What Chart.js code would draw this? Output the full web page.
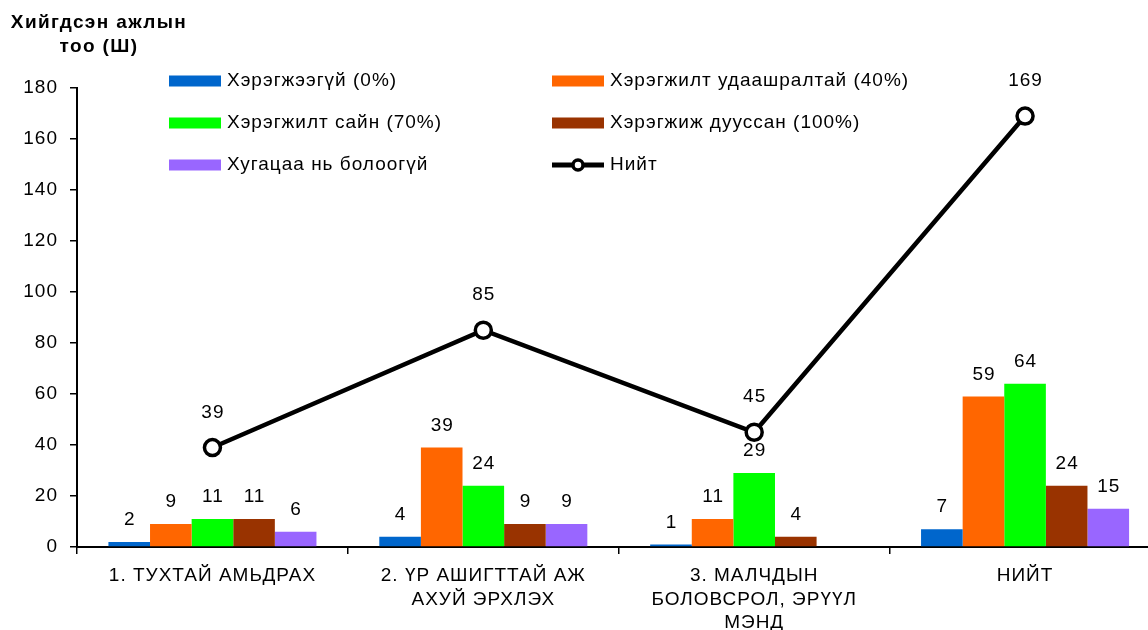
<!DOCTYPE html>
<html>
<head>
<meta charset="utf-8">
<script src="https://cdn.jsdelivr.net/npm/chart.js@4"></script>
<style>
html,body{margin:0;padding:0;background:#fff;overflow:hidden;}
#wrap{width:1172px;height:630px;position:relative;overflow:hidden;}
canvas{display:block;}
</style>
</head>
<body>
<div id="wrap"><canvas id="c" width="1172" height="630" style="width:1172px;height:630px;"></canvas></div>
<script>
const categories = [
  "1. ТУХТАЙ АМЬДРАХ",
  ["2. ҮР АШИГТТАЙ АЖ", "АХУЙ ЭРХЛЭХ"],
  ["3. МАЛЧДЫН", "БОЛОВСРОЛ, ЭРҮҮЛ", "МЭНД"],
  "НИЙТ"
];
const seriesNames = [
  "Хэрэгжээгүй (0%)",
  "Хэрэгжилт удаашралтай (40%)",
  "Хэрэгжилт сайн (70%)",
  "Хэрэгжиж дууссан (100%)",
  "Хугацаа нь болоогүй",
  "Нийт"
];
const notImplemented = [2, 4, 1, 7];
const slowProgress = [9, 39, 11, 59];
const goodProgress = [11, 24, 29, 64];
const completed = [11, 9, 4, 24];
const notDue = [6, 9, null, 15];
const totals = [39, 85, 45, 169];
const yTicks = [0, 20, 40, 60, 80, 100, 120, 140, 160, 180];
const axisTitle = ["Хийгдсэн ажлын", "тоо (Ш)"];

const colors = ["#0066CC", "#FF6600", "#00FF00", "#993300", "#9966FF", "#000000"];
const FONT = "'Liberation Sans', Arial, sans-serif";
const SPACING = '1px';
const FS = 19;

const barSeries = [notImplemented, slowProgress, goodProgress, completed, notDue];

const datasets = [{
  type: 'line',
  label: seriesNames[5],
  data: totals,
  borderColor: '#000',
  borderWidth: 4.5,
  pointRadius: 8,
  pointBorderWidth: 3.5,
  pointBackgroundColor: '#fff',
  pointBorderColor: '#000',
  tension: 0,
  order: -1
}];
barSeries.forEach((d, i) => {
  datasets.push({
    type: 'bar',
    label: seriesNames[i],
    data: d,
    backgroundColor: colors[i],
    borderWidth: 0,
    barPercentage: 1,
    categoryPercentage: 0.768,
    order: 1
  });
});

const spacingPlugin = {
  id: 'spacing',
  beforeInit(chart) { chart.ctx.letterSpacing = SPACING; },
  beforeUpdate(chart) { chart.ctx.letterSpacing = SPACING; },
  beforeDraw(chart) { chart.ctx.letterSpacing = SPACING; }
};

const labelPlugin = {
  id: 'valueLabels',
  afterDatasetsDraw(chart) {
    const ctx = chart.ctx;
    ctx.save();
    ctx.letterSpacing = SPACING;
    ctx.font = FS + "px " + FONT;
    ctx.fillStyle = '#000';
    ctx.textAlign = 'center';
    ctx.textBaseline = 'middle';
    chart.data.datasets.forEach((ds, di) => {
      const meta = chart.getDatasetMeta(di);
      meta.data.forEach((el, i) => {
        const v = ds.data[i];
        if (v === null || v === undefined) return;
        const off = ds.type === 'line' ? 35 : 22;
        ctx.fillText(String(v), el.x + 0.5, el.y - off);
      });
    });
    ctx.restore();
  },
  afterDraw(chart) {
    const ctx = chart.ctx;
    ctx.save();
    ctx.letterSpacing = '1.4px';
    ctx.font = "bold " + FS + "px " + FONT;
    ctx.fillStyle = '#000';
    ctx.textAlign = 'center';
    ctx.textBaseline = 'middle';
    ctx.fillText(axisTitle[0], 99, 23);
    ctx.fillText(axisTitle[1], 99, 47);
    // legend
    const cols = [169, 552];
    const rows = [81, 123, 165];
    ctx.letterSpacing = SPACING;
    ctx.font = FS + "px " + FONT;
    ctx.textAlign = 'left';
    seriesNames.forEach((name, k) => {
      const x = cols[k % 2];
      const y = rows[Math.floor(k / 2)];
      if (k < 5) {
        ctx.fillStyle = colors[k];
        ctx.fillRect(x, y - 5.5, 52, 11);
      } else {
        ctx.strokeStyle = '#000';
        ctx.lineWidth = 5;
        ctx.beginPath();
        ctx.moveTo(x, y);
        ctx.lineTo(x + 52, y);
        ctx.stroke();
        ctx.beginPath();
        ctx.arc(x + 26, y, 5, 0, Math.PI * 2);
        ctx.fillStyle = '#fff';
        ctx.fill();
        ctx.lineWidth = 3.5;
        ctx.stroke();
      }
      ctx.fillStyle = '#000';
      ctx.fillText(name, x + 58, y);
    });
    ctx.restore();
  }
};

new Chart(document.getElementById('c'), {
  data: { labels: categories, datasets },
  options: {
    responsive: false,
    maintainAspectRatio: false,
    devicePixelRatio: 1,
    animation: false,
    layout: { padding: { top: 88, right: 0, left: 0, bottom: 0 } },
    plugins: { legend: { display: false }, tooltip: { enabled: false }, title: { display: false } },
    scales: {
      x: {
        type: 'category',
        offset: true,
        grid: { display: true, offset: true, drawOnChartArea: false, drawTicks: true, tickLength: 7, color: '#000', lineWidth: 1.5 },
        border: { display: true, color: '#000', width: 2 },
        ticks: { color: '#000', font: { family: FONT, size: FS, lineHeight: 1.24 }, padding: 10, maxRotation: 0, autoSkip: false },
        afterFit(s) { s.height = 83; }
      },
      y: {
        min: 0, max: 180,
        afterBuildTicks(s) { s.ticks = yTicks.map(v => ({ value: v })); },
        grid: { display: true, drawOnChartArea: false, drawTicks: true, tickLength: 7, color: '#000', lineWidth: 1.5 },
        border: { display: true, color: '#000', width: 2 },
        ticks: { color: '#000', font: { family: FONT, size: FS }, padding: 12 },
        afterFit(s) { s.width = 77; }
      }
    }
  },
  plugins: [spacingPlugin, labelPlugin]
});
</script>
</body>
</html>
